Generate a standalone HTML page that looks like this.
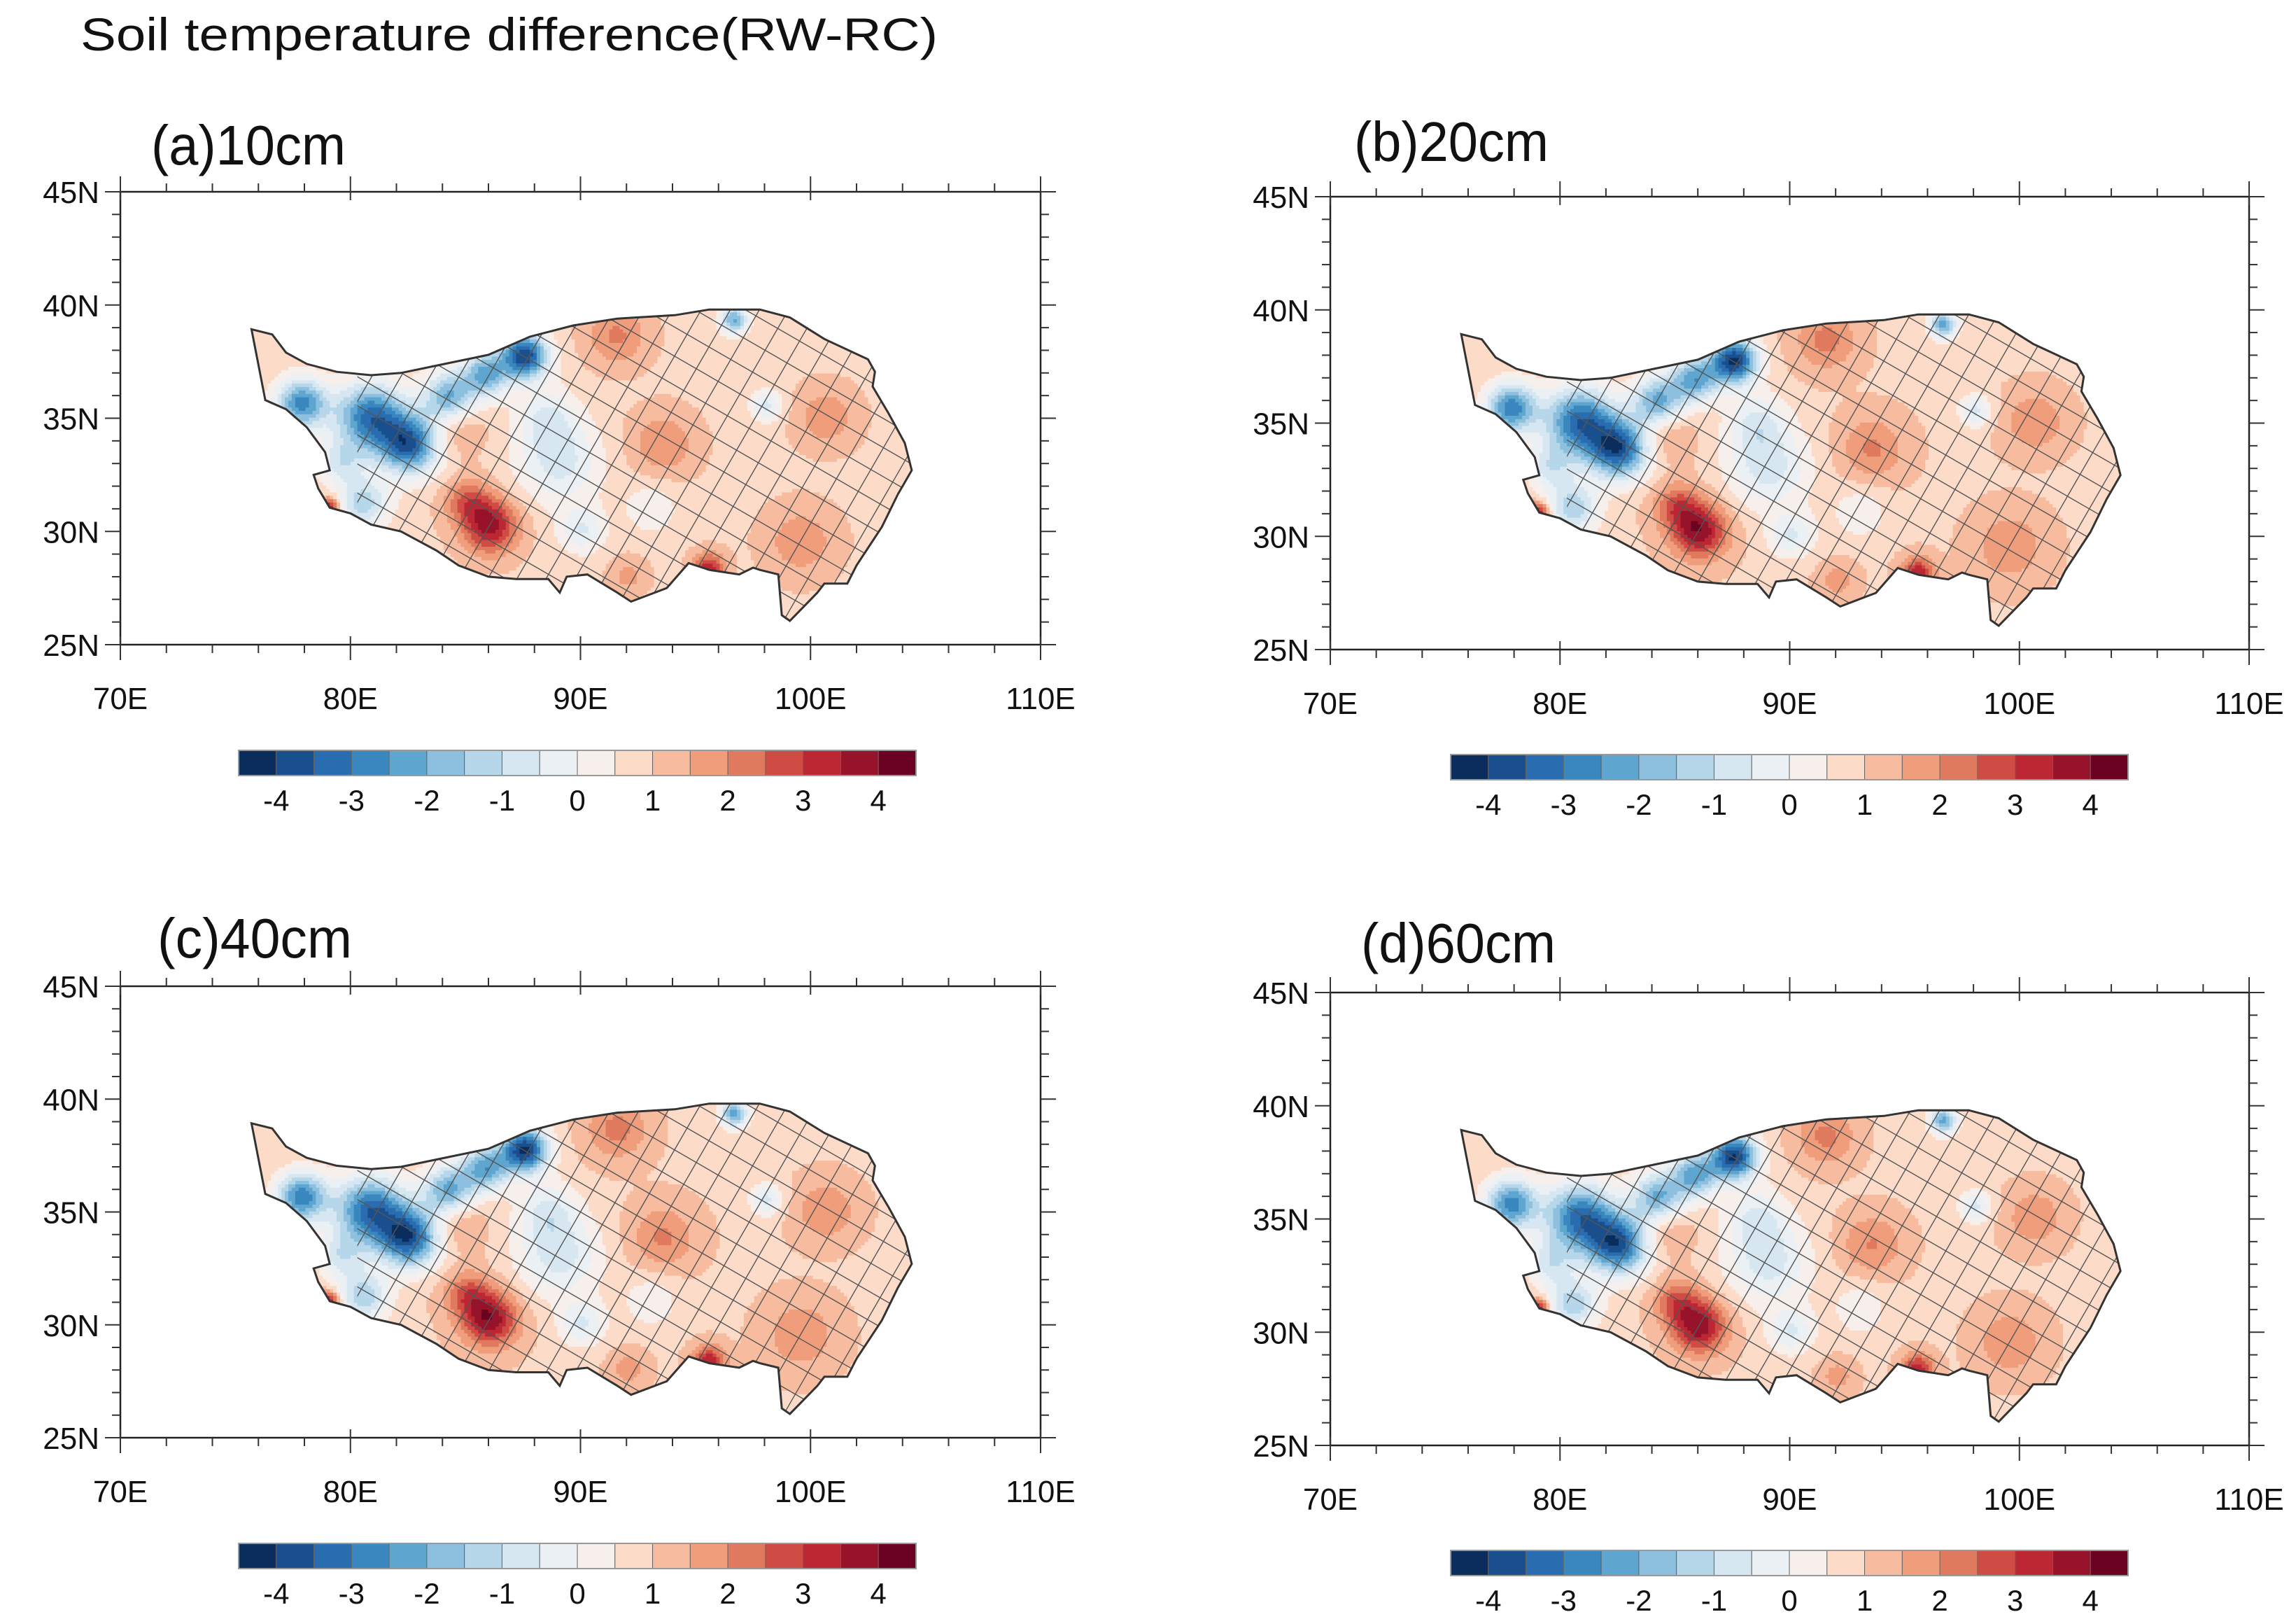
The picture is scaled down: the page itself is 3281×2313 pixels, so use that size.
<!DOCTYPE html>
<html><head><meta charset="utf-8"><title>Soil temperature difference</title>
<style>html,body{margin:0;padding:0;background:#fff;width:3281px;height:2313px;overflow:hidden}svg{display:block}</style></head>
<body>
<svg id="fig" xmlns="http://www.w3.org/2000/svg" width="3281" height="2313" viewBox="0 0 3281 2313" font-family="Liberation Sans, sans-serif" overflow="hidden">
<rect width="3281" height="2313" fill="#fff"/>
<text x="115" y="72" font-size="66" fill="#111" textLength="1225" lengthAdjust="spacingAndGlyphs">Soil temperature difference(RW-RC)</text>
</svg>
<script>
// ---- data ----
const panelTitles = ["(a)10cm","(b)20cm","(c)40cm","(d)60cm"];
const lonTicks = [70,80,90,100,110];
const latTicks = [25,30,35,40,45];
const cbarLabels = [-4,-3,-2,-1,0,1,2,3,4];
const levels = [-4,-3.5,-3,-2.5,-2,-1.5,-1,-0.5,0,0.5,1,1.5,2,2.5,3,3.5,4];
const colors = ["#0a2d5e","#1a4f8d","#2a6cb0","#3a87bf","#5ea6cf","#8cc0de","#b6d6ea","#d7e7f1","#ebf0f4","#f7efec","#fcdcc9","#f7bc9f","#f09d7c","#e07a5f","#cf4c44","#bb2733","#96132a","#6b0222"];
const outlineLon = [75.7,76.6,77.2,78.1,79.4,80.9,82.2,84.1,86.0,87.8,89.7,91.6,94.1,95.6,97.8,99.1,100.6,102.5,102.8,102.7,103.4,104.1,104.4,103.8,103.1,102.0,101.6,100.6,100.3,99.1,98.75,98.6,97.8,97.5,96.9,95.6,94.7,93.75,92.2,91.6,90.3,89.4,89.1,88.6,87.2,86.0,84.7,83.75,82.2,80.9,80.0,79.1,78.6,78.4,79.1,78.9,78.1,77.2,76.3];
const outlineLat = [38.93,38.7,37.9,37.4,37.05,36.9,37.0,37.4,37.8,38.6,39.1,39.4,39.55,39.8,39.8,39.45,38.5,37.6,37.05,36.4,35.2,33.9,32.7,31.65,30.2,28.5,27.7,27.7,27.3,26.05,26.3,28.1,28.3,28.4,28.1,28.3,28.6,27.5,26.9,27.3,28.1,28.0,27.3,27.9,27.9,28.0,28.5,29.15,30.0,30.3,30.8,31.05,31.9,32.5,32.7,33.5,34.6,35.4,35.8];
const baseValue = 0.9;
const blobLon = [77.8,80.8,82.5,84.2,87.5,85.8,80.5,89.0,88.5,90.0,96.6,98.0,93.0,86.0,85.0,95.5,79.0,91.5,93.5,100.6,99.5,84.5,92.0,79.5];
const blobLat = [35.6,35.0,33.8,35.9,37.7,36.9,31.2,33.0,35.0,30.0,39.3,35.5,31.0,30.2,31.3,28.3,31.0,38.6,33.8,35.0,29.5,34.5,28.0,33.0];
const blobAmp = [-3.6,-4.0,-4.2,-3.0,-4.8,-3.0,-2.2,-1.6,-1.3,-1.4,-3.0,-1.5,-0.8,2.8,1.5,2.4,2.8,1.2,1.1,1.0,1.0,0.8,0.8,-1.5];
const blobRad = [1.1,1.5,1.3,1.1,1.0,1.0,1.1,1.8,1.3,1.0,0.6,0.7,1.2,1.2,1.0,0.7,0.45,1.3,1.4,1.3,1.5,1.2,0.8,1.0];
const panelScale = [1.0,1.05,1.05,1.02];
// ---- layout ----
const panels = [
 {L:172,R:1487,T:274,B:921,cx:341,cy:1072,cw:968,ch:36,tx:216,ty:235},
 {L:1901,R:3214,T:281,B:928,cx:2073,cy:1078,cw:968,ch:36,tx:1935,ty:230},
 {L:172,R:1487,T:1409,B:2054,cx:341,cy:2205,cw:968,ch:36,tx:225,ty:1368},
 {L:1901,R:3214,T:1418,B:2065,cx:2073,cy:2215,cw:968,ch:36,tx:1945,ty:1375}
];
const NS="http://www.w3.org/2000/svg";
const svg=document.getElementById('fig');
function mk(tag,attrs,parent){const e=document.createElementNS(NS,tag);for(const k in attrs)e.setAttribute(k,attrs[k]);(parent||svg).appendChild(e);return e;}
function colorFor(v){let i=0;while(i<levels.length&&v>=levels[i])i++;return colors[i];}
panels.forEach((p,pi)=>{
 const x=lon=>p.L+(lon-70)/40*(p.R-p.L);
 const y=lat=>p.T+(45-lat)/20*(p.B-p.T);
 const g=mk('g',{});
 
 
 const t=mk('text',{x:p.tx,y:p.ty,'font-size':80,fill:'#111',textLength:278,lengthAdjust:'spacingAndGlyphs'},g);
 t.textContent=panelTitles[pi];
 
 
 const pts=outlineLon.map((lo,i)=>x(lo).toFixed(1)+','+y(outlineLat[i]).toFixed(1)).join(' ');
 const cp=mk('clipPath',{id:'clip'+pi},g);
 mk('polygon',{points:pts},cp);
 const cp2=mk('clipPath',{id:'cliph'+pi},g);
 mk('rect',{x:x(80.3),y:p.T,width:p.R-x(80.3),height:p.B-p.T},cp2);
 const field=mk('g',{'clip-path':'url(#clip'+pi+')'},g);
 
 
 const step=0.15;
 const cw=((p.R-p.L)/40*step+0.8).toFixed(1), chh=((p.B-p.T)/20*step+0.8).toFixed(1);
 for(let lo=75.5;lo<104.6;lo+=step){for(let la=25.9;la<40;la+=step){
  let v=baseValue;
  for(let k=0;k<blobLon.length;k++){const dx=(lo-blobLon[k])/blobRad[k],dy=(la-blobLat[k])/blobRad[k];v+=blobAmp[k]*Math.exp(-(dx*dx+dy*dy));}
  v*=panelScale[pi];
  mk('rect',{x:x(lo).toFixed(1),y:y(la+step).toFixed(1),width:cw,height:chh,fill:colorFor(v)},field);
 }}
 const hg=mk('g',{'clip-path':'url(#cliph'+pi+')'},g);
 const hg2=mk('g',{'clip-path':'url(#clip'+pi+')',stroke:'#555','stroke-width':1.4,fill:'none'},hg);
 
 
 const cx0=(p.L+p.R)/2,cy0=(p.T+p.B)/2,ang=30*Math.PI/180,sp=36;
 const ca=Math.cos(ang),sa=Math.sin(ang);
 for(let k=-30;k<=30;k++){
  const ox=k*sp;
  mk('line',{x1:cx0+ox*ca+1200*sa,y1:cy0+ox*sa-1200*ca,x2:cx0+ox*ca-1200*sa,y2:cy0+ox*sa+1200*ca},hg2);
  mk('line',{x1:cx0-1200*ca-ox*sa,y1:cy0-1200*sa+ox*ca,x2:cx0+1200*ca-ox*sa,y2:cy0+1200*sa+ox*ca},hg2);
 }
 const ol=mk('polygon',{points:pts,fill:'none',stroke:'#333','stroke-width':3},g);
 
 
 const fr=mk('rect',{x:p.L,y:p.T,width:p.R-p.L,height:p.B-p.T,fill:'none',stroke:'#222','stroke-width':2.5},g);
 
 
 for(let lo=70;lo<=110;lo+=2){const maj=lo%10===0;const len=maj?22:12;
  mk('line',{x1:x(lo),y1:p.B,x2:x(lo),y2:p.B+len,stroke:'#333','stroke-width':2},g);
  mk('line',{x1:x(lo),y1:p.T,x2:x(lo),y2:p.T-len,stroke:'#333','stroke-width':2},g);
  if(maj){mk('line',{x1:x(lo),y1:p.B,x2:x(lo),y2:p.B-12,stroke:'#333','stroke-width':2},g);mk('line',{x1:x(lo),y1:p.T,x2:x(lo),y2:p.T+12,stroke:'#333','stroke-width':2},g);}
 }
 for(let la=25;la<=45;la+=1){const maj=la%5===0;const len=maj?22:12;
  mk('line',{x1:p.L,y1:y(la),x2:p.L-len,y2:y(la),stroke:'#333','stroke-width':2},g);
  mk('line',{x1:p.R,y1:y(la),x2:p.R+len,y2:y(la),stroke:'#333','stroke-width':2},g);
 }
 lonTicks.forEach(lo=>{const tt=mk('text',{x:x(lo),y:p.B+92,'font-size':44,'text-anchor':'middle',fill:'#111'},g);tt.textContent=lo+'E';
  });
 latTicks.forEach(la=>{const tt=mk('text',{x:p.L-30,y:y(la)+16,'font-size':44,'text-anchor':'end',fill:'#111'},g);tt.textContent=la+'N';
  });
 const cb=mk('g',{},g);
 
 
 const bw=p.cw/colors.length;
 colors.forEach((c,i)=>{mk('rect',{x:p.cx+i*bw,y:p.cy,width:bw,height:p.ch,fill:c,stroke:'#666','stroke-width':1},cb);});
 mk('rect',{x:p.cx,y:p.cy,width:p.cw,height:p.ch,fill:'none',stroke:'#999','stroke-width':2},cb);
 cbarLabels.forEach(v=>{const idx=levels.indexOf(v)+1;const tt=mk('text',{x:p.cx+idx*bw,y:p.cy+p.ch+50,'font-size':42,'text-anchor':'middle',fill:'#111'},cb);tt.textContent=v;
  });
});
</script>
</body></html>
